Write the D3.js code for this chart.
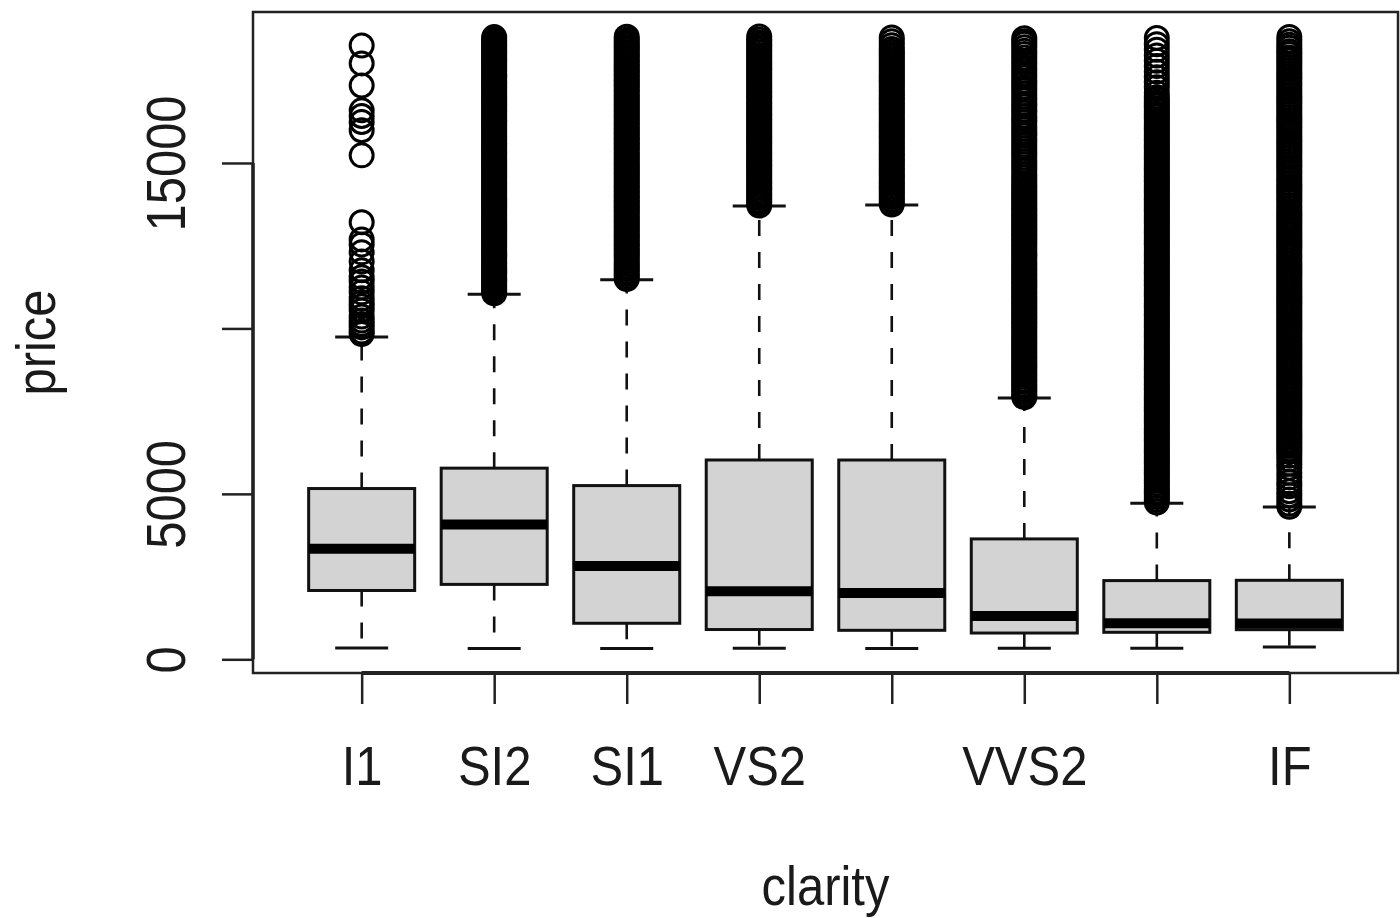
<!DOCTYPE html>
<html>
<head>
<meta charset="utf-8">
<script src="https://cdn.jsdelivr.net/npm/d3@7"></script>
<style>
  html, body { margin: 0; padding: 0; background: #fff; }
  svg { display: block; }
  text { font-family: "Liberation Sans", Arial, Helvetica, sans-serif; fill: #1a1a1a; }
</style>
</head>
<body>
<svg id="chart" width="1400" height="918"></svg>
<script>
// Diamond price by clarity grade (box-and-whisker summary)
const categories = ["I1", "SI2", "SI1", "VS2", "VS1", "VVS2", "VVS1", "IF"];
// labels that fit on the axis (the others are dropped for spacing)
const shownXLabels = ["I1", "SI2", "SI1", "VS2", "VVS2", "IF"];

const lowerWhisker = [345, 326, 326, 334, 327, 336, 336, 369];
const q1           = [2080, 2264, 1089, 900, 876, 794, 816, 895];
const median       = [3344, 4072, 2822, 2054, 2005, 1311, 1093, 1080];
const q3           = [5161, 5777, 5250, 6024, 6023, 3638, 2379, 2388];
const upperWhisker = [9740, 11030, 11470, 13700, 13730, 7900, 4720, 4600];

const yTickValues = [0, 5000, 10000, 15000];
const shownYLabels = ["0", "5000", "15000"];

// outlying prices per clarity grade
const outI1 = [18549, 18010, 17340, 16590, 16420, 16240, 15990, 15230, 13210, 12690,
  12540, 12300, 12020, 11760, 11550, 11420, 11240, 11090, 10910, 10780, 10670, 10540,
  10360, 10240, 10130, 10030, 9910, 9830];
const outSI2 = [11058, 11120, 11190, 11262, 11318, 11395, 11460, 11527, 11590, 11668,
  11731, 11804, 11866, 11939, 12004, 12072, 12150, 12211, 12288, 12350, 12419, 12493,
  12560, 12628, 12697, 12764, 12838, 12905, 12971, 13046, 13112, 13180, 13252, 13319,
  13390, 13458, 13525, 13601, 13667, 13738, 13806, 13872, 13945, 14013, 14080, 14152,
  14219, 14290, 14358, 14425, 14498, 14566, 14633, 14707, 14775, 14842, 14915, 14983,
  15050, 15122, 15190, 15262, 15330, 15397, 15470, 15538, 15606, 15679, 15745, 15816,
  15885, 15952, 16026, 16094, 16160, 16233, 16301, 16372, 16440, 16508, 16580, 16647,
  16718, 16789, 16856, 16925, 16998, 17064, 17133, 17206, 17272, 17344, 17412, 17480,
  17553, 17620, 17690, 17762, 17830, 17899, 17970, 18038, 18107, 18180, 18246, 18318,
  18387, 18455, 18528, 18596, 18664, 18735, 18804];
const outSI1 = [11495, 11570, 11648, 11720, 11801, 11876, 11950, 12031, 12104, 12182,
  12259, 12333, 12410, 12488, 12561, 12640, 12716, 12790, 12869, 12945, 13020, 13098,
  13172, 13250, 13327, 13401, 13479, 13555, 13630, 13708, 13784, 13859, 13936, 14012,
  14088, 14165, 14240, 14317, 14393, 14468, 14546, 14621, 14697, 14774, 14850, 14926,
  15003, 15078, 15155, 15231, 15307, 15384, 15459, 15536, 15611, 15688, 15764, 15840,
  15917, 15992, 16069, 16145, 16220, 16298, 16373, 16450, 16526, 16601, 16678, 16754,
  16830, 16907, 16982, 17058, 17135, 17210, 17287, 17363, 17438, 17515, 17591, 17667,
  17744, 17819, 17895, 17972, 18047, 18124, 18200, 18275, 18352, 18428, 18503, 18580,
  18656, 18731, 18818];
const outVS2 = [13712, 13790, 13866, 13945, 14021, 14098, 14177, 14253, 14330, 14408,
  14485, 14561, 14640, 14716, 14793, 14871, 14948, 15024, 15103, 15179, 15256, 15334,
  15411, 15487, 15566, 15642, 15719, 15797, 15874, 15950, 16029, 16105, 16182, 16260,
  16337, 16413, 16492, 16568, 16645, 16723, 16800, 16876, 16955, 17031, 17108, 17186,
  17263, 17339, 17418, 17494, 17571, 17649, 17726, 17802, 17881, 17957, 18034, 18112,
  18189, 18265, 18344, 18420, 18497, 18575, 18652, 18730, 18823];
const outVS1 = [13745, 13821, 13899, 13974, 14052, 14129, 14205, 14283, 14360, 14436,
  14514, 14591, 14667, 14745, 14822, 14898, 14976, 15053, 15129, 15207, 15284, 15360,
  15438, 15515, 15591, 15669, 15746, 15822, 15900, 15977, 16053, 16131, 16208, 16284,
  16362, 16439, 16515, 16593, 16670, 16746, 16824, 16901, 16977, 17055, 17132, 17208,
  17286, 17363, 17439, 17517, 17594, 17670, 17748, 17825, 17901, 17979, 18056, 18132,
  18210, 18287, 18363, 18441, 18560, 18680, 18795];
const outVVS2 = [7921, 7996, 8073, 8148, 8225, 8301, 8377, 8452, 8529, 8604, 8681, 8757,
  8832, 8909, 8985, 9060, 9137, 9212, 9289, 9365, 9440, 9517, 9592, 9669, 9745, 9820,
  9897, 9972, 10049, 10125, 10200, 10277, 10352, 10429, 10505, 10580, 10657, 10732,
  10809, 10885, 10960, 11037, 11112, 11189, 11265, 11340, 11417, 11492, 11569, 11645,
  11720, 11797, 11872, 11949, 12025, 12100, 12177, 12252, 12329, 12405, 12480, 12557,
  12632, 12709, 12785, 12860, 12937, 13012, 13089, 13165, 13240, 13317, 13392, 13469,
  13545, 13620, 13697, 13772, 13849, 13925, 14000, 14077, 14152, 14229, 14305, 14380,
  14470, 14571, 14668, 14770, 14862, 14965, 15058, 15160, 15255, 15348, 15452, 15540,
  15646, 15735, 15840, 15930, 16038, 16122, 16230, 16320, 16418, 16525, 16610, 16718,
  16800, 16912, 17004, 17098, 17210, 17290, 17402, 17488, 17600, 17690, 17790, 17880,
  17996, 18080, 18190, 18290, 18392, 18498, 18600, 18680, 18768];
const outVVS1 = [4741, 4822, 4905, 4987, 5070, 5152, 5236, 5318, 5401, 5483, 5567, 5649,
  5732, 5814, 5898, 5980, 6063, 6145, 6229, 6311, 6394, 6476, 6560, 6642, 6725, 6807,
  6891, 6973, 7056, 7138, 7222, 7304, 7387, 7469, 7553, 7635, 7718, 7800, 7884, 7966,
  8049, 8131, 8215, 8297, 8380, 8462, 8546, 8628, 8711, 8793, 8877, 8959, 9042, 9124,
  9208, 9290, 9373, 9455, 9539, 9621, 9704, 9786, 9870, 9952, 10035, 10117, 10201,
  10283, 10366, 10448, 10532, 10614, 10697, 10779, 10863, 10945, 11028, 11110, 11194,
  11276, 11359, 11441, 11525, 11607, 11690, 11772, 11856, 11938, 12021, 12103, 12187,
  12269, 12352, 12434, 12518, 12600, 12683, 12765, 12849, 12931, 13014, 13096, 13180,
  13262, 13345, 13427, 13511, 13593, 13676, 13758, 13842, 13924, 14007, 14089, 14173,
  14255, 14338, 14420, 14504, 14586, 14669, 14751, 14835, 14917, 15000, 15082, 15166,
  15248, 15331, 15413, 15497, 15579, 15662, 15744, 15828, 15910, 15993, 16075, 16159,
  16241, 16324, 16406, 16490, 16572, 16655, 16737, 16821, 16903, 16986, 17120, 17290,
  17440, 17590, 17760, 17930, 18090, 18250, 18420, 18590, 18777];
const outIF = [4610, 4700, 4830, 4960, 5080, 5230, 5360, 5500, 5640, 5790, 5910, 6040,
  6150, 6260, 6350, 6445, 6530, 6620, 6710, 6795, 6885, 6970, 7060, 7148, 7235, 7322,
  7410, 7497, 7585, 7672, 7760, 7847, 7935, 8022, 8110, 8197, 8285, 8372, 8460, 8547,
  8635, 8722, 8810, 8897, 8985, 9072, 9160, 9247, 9335, 9422, 9510, 9597, 9685, 9772,
  9860, 9947, 10035, 10122, 10210, 10297, 10385, 10472, 10560, 10647, 10735, 10822,
  10910, 10997, 11085, 11172, 11260, 11347, 11435, 11522, 11610, 11697, 11785, 11872,
  11960, 12047, 12135, 12222, 12310, 12397, 12485, 12572, 12660, 12747, 12835, 12922,
  13010, 13097, 13185, 13272, 13360, 13447, 13535, 13640, 13730, 13835, 13920, 14020,
  14110, 14205, 14300, 14390, 14490, 14580, 14680, 14770, 14870, 14960, 15060, 15150,
  15250, 15340, 15440, 15530, 15630, 15720, 15820, 15910, 16010, 16100, 16200, 16290,
  16390, 16480, 16580, 16670, 16770, 16860, 16960, 17050, 17150, 17240, 17340, 17430,
  17530, 17620, 17720, 17810, 17910, 18000, 18100, 18190, 18290, 18380, 18480, 18570,
  18680, 18806];
const outliers = [outI1, outSI2, outSI1, outVS2, outVS1, outVVS2, outVVS1, outIF];

// ---- layout ----
const plot = { left: 253, right: 1398, top: 12, bottom: 673 };
const svg = d3.select("#chart");

// x: group positions 1..n, padded by half a slot plus 4% like base graphics
const n = categories.length;
const xSpan = n;
const x = d3.scaleLinear()
  .domain([0.5 - 0.04 * xSpan, n + 0.5 + 0.04 * xSpan])
  .range([plot.left, plot.right]);

const allVals = lowerWhisker.concat(upperWhisker, ...outliers);
const yMin = d3.min(allVals), yMax = d3.max(allVals);
const yPad = 0.04 * (yMax - yMin);
const y = d3.scaleLinear()
  .domain([yMin - yPad, yMax + yPad])
  .range([plot.bottom, plot.top]);

const boxW = x(1.4) - x(0.6);
const capW = boxW * 0.5;

const g = svg.append("g");

categories.forEach((cat, i) => {
  const cx = x(i + 1);
  const grp = g.append("g").attr("class", "group");

  // dashed whiskers
  grp.append("line")
    .attr("x1", cx).attr("x2", cx)
    .attr("y1", y(q3[i])).attr("y2", y(upperWhisker[i]))
    .attr("stroke", "#111").attr("stroke-width", 2.6)
    .attr("stroke-dasharray", "16,16");
  grp.append("line")
    .attr("x1", cx).attr("x2", cx)
    .attr("y1", y(q1[i])).attr("y2", y(lowerWhisker[i]))
    .attr("stroke", "#111").attr("stroke-width", 2.6)
    .attr("stroke-dasharray", "16,16");

  // staples
  [upperWhisker[i], lowerWhisker[i]].forEach(v => {
    grp.append("line")
      .attr("x1", cx - capW / 2).attr("x2", cx + capW / 2)
      .attr("y1", y(v)).attr("y2", y(v))
      .attr("stroke", "#111").attr("stroke-width", 3);
  });

  // box
  grp.append("rect")
    .attr("x", cx - boxW / 2)
    .attr("y", y(q3[i]))
    .attr("width", boxW)
    .attr("height", y(q1[i]) - y(q3[i]))
    .attr("fill", "#d3d3d3")
    .attr("stroke", "#111").attr("stroke-width", 3);

  // median
  grp.append("line")
    .attr("x1", cx - boxW / 2).attr("x2", cx + boxW / 2)
    .attr("y1", y(median[i])).attr("y2", y(median[i]))
    .attr("stroke", "#000").attr("stroke-width", 10);

  // outliers
  grp.selectAll("circle.out")
    .data(outliers[i])
    .join("circle")
    .attr("class", "out")
    .attr("cx", cx)
    .attr("cy", d => y(d))
    .attr("r", 11.5)
    .attr("fill", "none")
    .attr("stroke", "#000")
    .attr("stroke-width", 3);
});

// plot frame
svg.append("rect")
  .attr("x", plot.left).attr("y", plot.top)
  .attr("width", plot.right - plot.left)
  .attr("height", plot.bottom - plot.top)
  .attr("fill", "none")
  .attr("stroke", "#222").attr("stroke-width", 2.5);

// ---- axes ----
const xTicks = d3.range(1, n + 1);
const xAxis = d3.axisBottom(x)
  .tickValues(xTicks)
  .tickSize(31)
  .tickFormat(d => shownXLabels.includes(categories[d - 1]) ? categories[d - 1] : "");
const gx = svg.append("g")
  .attr("transform", `translate(0,${plot.bottom})`)
  .call(xAxis);
gx.select(".domain").remove();
gx.selectAll(".tick line").attr("stroke", "#222").attr("stroke-width", 2.5);
// labels are squeezed horizontally around their tick
gx.selectAll(".tick text")
  .attr("font-size", 55)
  .attr("fill", "#1a1a1a")
  .attr("dy", null)
  .attr("y", 112)
  .attr("x", 0)
  .attr("transform", "scale(0.89,1)");
svg.append("line")
  .attr("x1", x(xTicks[0])).attr("x2", x(xTicks[xTicks.length - 1]))
  .attr("y1", plot.bottom).attr("y2", plot.bottom)
  .attr("stroke", "#222").attr("stroke-width", 4);

const yAxis = d3.axisLeft(y)
  .tickValues(yTickValues)
  .tickSize(31)
  .tickFormat(d => shownYLabels.includes(String(d)) ? String(d) : "");
const gy = svg.append("g")
  .attr("transform", `translate(${plot.left},0)`)
  .call(yAxis);
gy.select(".domain").remove();
gy.selectAll(".tick line").attr("stroke", "#222").attr("stroke-width", 2.5);
gy.selectAll(".tick text")
  .attr("font-size", 55)
  .attr("fill", "#1a1a1a")
  .attr("x", null).attr("dy", null)
  .attr("text-anchor", "middle")
  .attr("transform", "translate(-68,0) rotate(-90) scale(0.89,1)");
svg.append("line")
  .attr("x1", plot.left).attr("x2", plot.left)
  .attr("y1", y(yTickValues[0])).attr("y2", y(yTickValues[yTickValues.length - 1]))
  .attr("stroke", "#222").attr("stroke-width", 3.5);

// axis titles
svg.append("text")
  .attr("transform", `translate(${(plot.left + plot.right) / 2},905) scale(0.89,1)`)
  .attr("text-anchor", "middle")
  .attr("font-size", 55)
  .text("clarity");
svg.append("text")
  .attr("transform", `translate(55,${(plot.top + plot.bottom) / 2}) rotate(-90) scale(0.89,1)`)
  .attr("text-anchor", "middle")
  .attr("font-size", 55)
  .text("price");
</script>
</body>
</html>
